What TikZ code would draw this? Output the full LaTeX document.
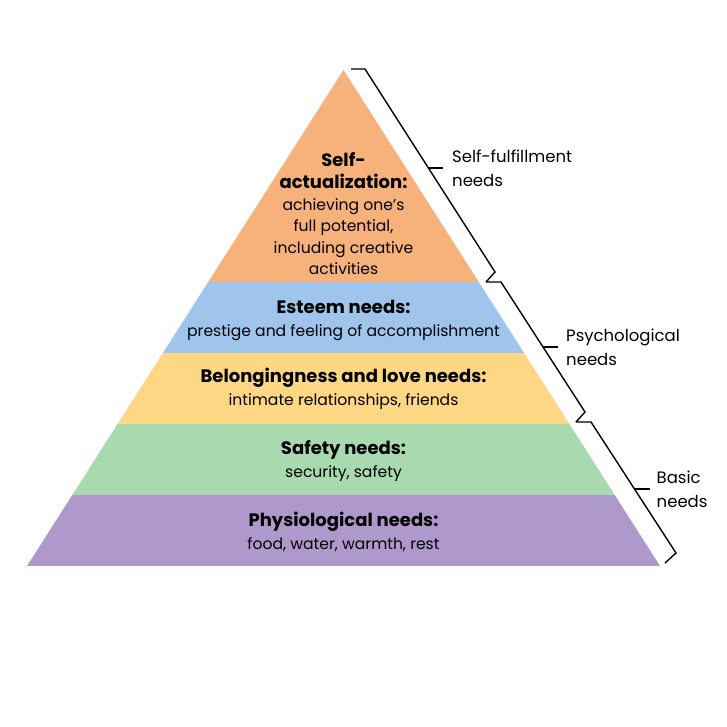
\documentclass[tikz,border=0pt]{standalone}
\usepackage{fontspec}
\setmainfont{Poppins}
\usepackage{xcolor}
\usepackage{tikz}
\usetikzlibrary{positioning, calc}
\definecolor{selfcol}{HTML}{F7B27C}
\definecolor{esteemcol}{HTML}{9FC5EC}
\definecolor{lovecol}{HTML}{FDD783}
\definecolor{safecol}{HTML}{A8D9AF}
\definecolor{physcol}{HTML}{AF99CC}
\newcommand{\heading}[1]{{\fontsize{18}{23}\selectfont\bfseries #1}}

\begin{document}
\begin{tikzpicture}[
    x=1pt, y=-1pt,
    level/.style={
        align=center,
        inner sep=0pt,
        font=\fontsize{15.6}{23}\selectfont
    },
    side/.style={
        align=left,
        inner sep=0pt,
        font=\fontsize{16.5}{24}\selectfont
    },
    bracket/.style={
        line width=1.4pt,
        draw=black
    }
]
\useasboundingbox[fill=white] (0,0) rectangle (727,727);

\coordinate (apex) at (343.5,70);
\coordinate (baseL) at (27,566);
\coordinate (baseR) at (660,566);

% bands of the pyramid
\begin{scope}
    \clip (apex) -- (baseR) -- (baseL) -- cycle;
    \fill[selfcol] (0,60) rectangle (727,282);
    \fill[esteemcol] (0,282) rectangle (727,353);
    \fill[lovecol] (0,353) rectangle (727,424);
    \fill[safecol] (0,424) rectangle (727,495);
    \fill[physcol] (0,495) rectangle (727,566);
\end{scope}

\node[level, font=\fontsize{15.6}{21.6}\selectfont] (selfact) at (343.5,214) {\heading{Self-}\\\heading{actualization:}\\achieving one's\\full potential,\\including creative\\activities};
\node[level] (esteem) at (343.5,320) {\heading{Esteem needs:}\\prestige and feeling of accomplishment};
\node[level] (love) at (343.5,389) {\heading{Belongingness and love needs:}\\intimate relationships, friends};
\node[level] (safety) at (343.5,461) {\heading{Safety needs:}\\security, safety};
\node[level] (physio) at (343.5,532) {\heading{Physiological needs:}\\food, water, warmth, rest};

% braces on the right side
\draw[bracket] (351,69) -- (365,69) -- (495,272) -- (486,282);
\draw[bracket] (428,168) -- ++(15,0) coordinate (tip1);
\draw[bracket] (486,282) -- (501,282) -- (585,412) -- (576,422);
\draw[bracket] (543,347) -- ++(15,0) coordinate (tip2);
\draw[bracket] (576,422) -- (591,422) -- (676,553) -- (665,563);
\draw[bracket] (634.5,489) -- ++(15,0) coordinate (tip3);

\node[side, right=9pt of tip1] (fulfil) {Self-fulfillment\\needs};
\node[side, right=8pt of tip2] (psych) {Psychological\\needs};
\node[side, right=7pt of tip3] (basic) {Basic\\needs};

\end{tikzpicture}
\end{document}
